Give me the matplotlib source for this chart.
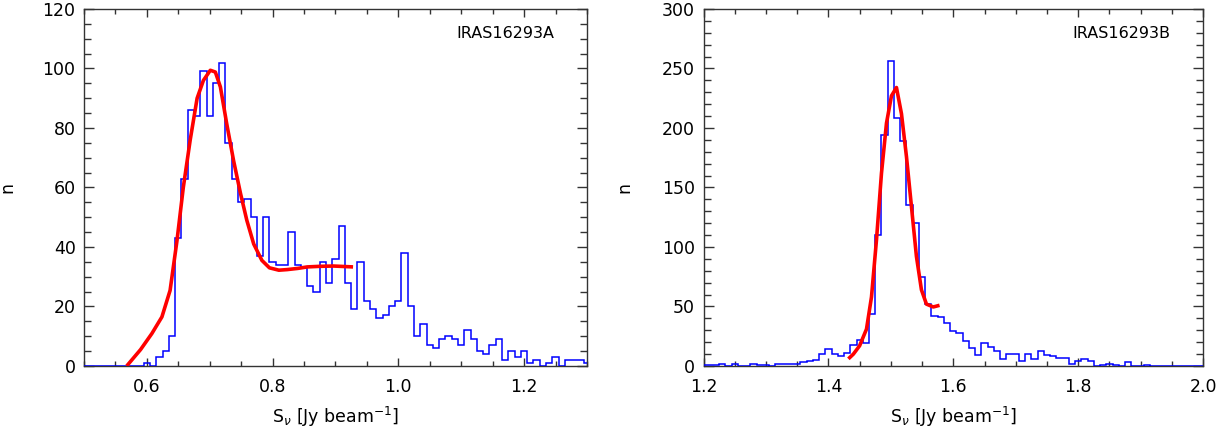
import numpy as np
import matplotlib
matplotlib.use('Agg')
from matplotlib import pyplot as plt
from matplotlib.ticker import MultipleLocator, FormatStrFormatter

# IRAS16293A histogram: bin width 0.01, first bin centred at 0.50
a_start = 0.50
a_counts = [0, 0, 0, 0, 0, 0, 0, 0, 0, 0,
            1, 0, 3, 5, 10, 43, 63, 86, 84, 99,
            84, 95, 102, 75, 63, 55, 56, 50, 37, 50,
            35, 34, 34, 45, 34, 33, 27, 25, 35, 28,
            36, 47, 28, 19, 35, 22, 19, 16, 17, 20,
            22, 38, 20, 10, 14, 7, 6, 9, 10, 9,
            7, 12, 9, 5, 4, 7, 9, 2, 5, 3,
            5, 1, 2, 0, 1, 3, 0, 2, 2, 2, 1]
a_fit_x = [0.568, 0.590, 0.608, 0.624, 0.637, 0.648, 0.658, 0.669, 0.680, 0.690,
           0.701, 0.709, 0.717, 0.727, 0.738, 0.749, 0.759, 0.770, 0.783, 0.795,
           0.810, 0.823, 0.840, 0.855, 0.875, 0.897, 0.928]
a_fit_y = [0.0, 5.5, 10.9, 16.5, 25.4, 42.2, 60.0, 76.0, 90.0, 96.0,
           99.4, 98.8, 93.8, 81.5, 69.0, 58.0, 49.0, 41.0, 35.5, 33.0,
           32.2, 32.4, 32.8, 33.3, 33.5, 33.6, 33.3]

# IRAS16293B histogram
b_start = 1.20
b_counts = [1, 1, 1, 2, 0, 2, 0, 0, 2, 1,
            1, 0, 2, 2, 2, 2, 3, 4, 5, 10,
            14, 10, 8, 11, 18, 22, 19, 44, 110, 194,
            256, 208, 189, 135, 120, 75, 52, 42, 41, 36,
            29, 28, 21, 15, 9, 19, 16, 13, 6, 10,
            10, 4, 10, 6, 13, 9, 8, 7, 7, 2,
            4, 6, 4, 0, 1, 2, 1, 0, 3, 0,
            0, 1, 0, 0, 0, 0, 0, 0, 0, 0, 0]
b_fit_x = [1.432, 1.440, 1.450, 1.461, 1.469, 1.477, 1.485, 1.493, 1.501, 1.509,
           1.517, 1.525, 1.533, 1.541, 1.549, 1.557, 1.568, 1.578]
b_fit_y = [6, 10, 17, 31, 58, 106, 162, 204, 227, 234,
           212, 176, 134, 92, 64, 52, 49.6, 51]

bw = 0.01

fig = plt.figure(figsize=(12.31, 4.34), dpi=100)
ax1 = fig.add_axes([0.0682, 0.1567, 0.4086, 0.8226])
ax2 = fig.add_axes([0.5715, 0.1567, 0.4058, 0.8226])

panels = [
    (ax1, a_start, a_counts, a_fit_x, a_fit_y, (0.5, 1.3), (0, 120), 20, 5, 'IRAS16293A', -0.135),
    (ax2, b_start, b_counts, b_fit_x, b_fit_y, (1.2, 2.0), (0, 300), 50, 10, 'IRAS16293B', -0.141),
]

for ax, start, counts, fx, fy, xl, yl, ymaj, ymin, name, lx in panels:
    edges = start - bw / 2 + bw * np.arange(len(counts) + 1)
    ax.stairs(counts, edges, color='#0000ff', lw=1.1, baseline=None, zorder=3)
    ax.plot(fx, fy, color='#ff0000', lw=2.6, zorder=4, solid_capstyle='butt')
    ax.set_xlim(*xl)
    ax.set_ylim(*yl)
    ax.xaxis.set_major_locator(MultipleLocator(0.2))
    ax.xaxis.set_minor_locator(MultipleLocator(0.05))
    ax.xaxis.set_major_formatter(FormatStrFormatter('%.1f'))
    ax.yaxis.set_major_locator(MultipleLocator(ymaj))
    ax.yaxis.set_minor_locator(MultipleLocator(ymin))
    ax.tick_params(axis='both', which='both', direction='in', top=True, right=True,
                   labelsize=12.5, width=1.0, color='#333333')
    ax.tick_params(axis='x', which='major', length=5.5, pad=9)
    ax.tick_params(axis='x', which='minor', length=3.5)
    ax.tick_params(axis='y', which='major', length=7.5, pad=6)
    ax.tick_params(axis='y', which='minor', length=5)
    for s in ax.spines.values():
        s.set_linewidth(1.0)
        s.set_color('#333333')
    ax.set_xlabel(r'S$_{\nu}$ [Jy beam$^{-1}$]', fontsize=12.5, labelpad=6)
    ax.set_ylabel('n', fontsize=12.5)
    ax.yaxis.set_label_coords(lx, 0.5)
    ax.text(0.935, 0.93, name, transform=ax.transAxes, ha='right', va='center', fontsize=11.5)

fig.savefig('out.png', dpi=100)
